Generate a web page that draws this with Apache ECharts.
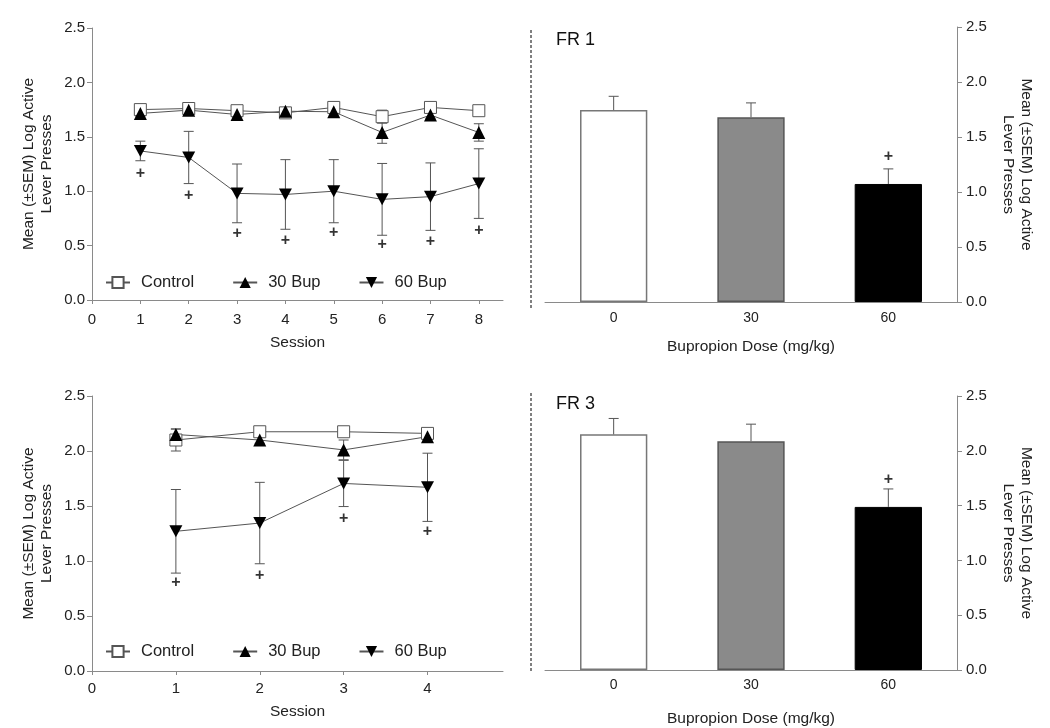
<!DOCTYPE html>
<html><head><meta charset="utf-8">
<script src="https://cdn.jsdelivr.net/npm/echarts@6/dist/echarts.min.js"></script>
<style>html,body{margin:0;padding:0;background:#fff}#c{width:1050px;height:728px}</style>
</head><body><div id="c"></div>
<script>
// ---- data ----
const sessionsTop = [1,2,3,4,5,6,7,8];
const ctrlTop     = [1.75,1.76,1.74,1.72,1.77,1.685,1.77,1.74];
const ctrlTopSem  = [0.03,0.03,0.03,0.03,0.03,0.06,0.03,0.03];
const bup30Top    = [1.715,1.745,1.705,1.735,1.73,1.54,1.70,1.54];
const bup30TopSem = [0.03,0.03,0.03,0.03,0.03,0.10,0.03,0.08];
const bup60Top    = [1.37,1.31,0.98,0.97,1.00,0.925,0.95,1.07];
const bup60TopSem = [0.09,0.24,0.27,0.32,0.29,0.33,0.31,0.32];
const plusTop     = [1.16,0.96,0.61,0.55,0.62,0.51,0.54,0.64];

const sessionsBot = [1,2,3,4];
const ctrlBot     = [2.10,2.175,2.175,2.16];
const ctrlBotSem  = [0.10,0.03,0.03,0.03];
const bup30Bot    = [2.15,2.10,2.01,2.13];
const bup30BotSem = [0.05,0.03,0.09,0.03];
const bup60Bot    = [1.27,1.345,1.705,1.67];
const bup60BotSem = [0.38,0.37,0.21,0.31];
const plusBot     = [0.80,0.87,1.39,1.27];

const doses       = ['0','30','60'];
const fr1Mean     = [1.745,1.68,1.073];
const fr1Sem      = [0.125,0.13,0.137];
const fr1Plus     = [null,null,1.32];
const fr3Mean     = [2.15,2.088,1.488];
const fr3Sem      = [0.145,0.155,0.164];
const fr3Plus     = [null,null,1.74];

const seriesNames = ['Control','30 Bup','60 Bup'];
const yName = 'Mean (±SEM) Log Active\nLever Presses';

// ---- styling helpers ----
const FONT = "'Liberation Sans', Arial, sans-serif";
const AX = '#8a8a8a';
const downTri = 'path://M0,0 L10,0 L5,9 Z';
const pairs = (xs, ys) => xs.map((x,i)=>[x, ys[i]]);
const triples = (xs, ys, es) => xs.map((x,i)=>[x, ys[i], es[i]]);

function errRender(both){
  return function(params, api){
    const x = api.value(0), y = api.value(1), e = api.value(2);
    const top = api.coord([x, y+e]);
    const bot = api.coord(both ? [x, y-e] : [x, y]);
    const hw = 5;
    const st = {stroke:'#555', lineWidth:1};
    const ch = [
      {type:'line', shape:{x1:top[0],y1:top[1],x2:bot[0],y2:bot[1]}, style:st},
      {type:'line', shape:{x1:top[0]-hw,y1:top[1],x2:top[0]+hw,y2:top[1]}, style:st}
    ];
    if (both) ch.push({type:'line', shape:{x1:bot[0]-hw,y1:bot[1],x2:bot[0]+hw,y2:bot[1]}, style:st});
    return {type:'group', children:ch};
  };
}

function valueYAxis(gi, right){
  return {
    type:'value', gridIndex:gi, min:0, max:2.5, interval:0.5,
    position: right ? 'right' : 'left',
    name: yName, nameLocation:'middle', nameGap: right ? 42 : 36,
    nameRotate: right ? -90 : 90,
    nameTextStyle:{fontFamily:FONT, fontSize:15.5, color:'#222', lineHeight:18},
    axisLine:{show:true, lineStyle:{color:AX}},
    axisTick:{show:true, length:5, lineStyle:{color:AX}},
    axisLabel:{fontFamily:FONT, fontSize:15, color:'#222', margin: right ? 9 : 7, formatter:v=>v.toFixed(1)},
    splitLine:{show:false}
  };
}
function sessionXAxis(gi, max, ticks, margin, gap){
  return {
    type:'value', gridIndex:gi, min:0, max:max, interval:1,
    name:'Session', nameLocation:'middle', nameGap:gap,
    nameTextStyle:{fontFamily:FONT, fontSize:15.5, color:'#222'},
    axisLine:{show:true, onZero:false, lineStyle:{color:AX}},
    axisTick:{show:true, length:4, customValues:ticks, lineStyle:{color:AX}},
    axisLabel:{fontFamily:FONT, fontSize:15, color:'#222', margin:margin, customValues:ticks},
    splitLine:{show:false}
  };
}
function doseXAxis(gi, margin, gap){
  return {
    type:'category', gridIndex:gi, data:doses,
    name:'Bupropion Dose (mg/kg)', nameLocation:'middle', nameGap:gap,
    nameTextStyle:{fontFamily:FONT, fontSize:15.5, color:'#222'},
    axisLine:{show:true, lineStyle:{color:AX}},
    axisTick:{show:false},
    axisLabel:{fontFamily:FONT, fontSize:14, color:'#222', margin:margin},
    splitLine:{show:false}
  };
}

function lineSeries(name, xi, xs, ys, kind){
  const s = {
    name, type:'line', xAxisIndex:xi, yAxisIndex:xi, data:pairs(xs,ys), z:5,
    lineStyle:{color:'#555', width:1}, symbolSize:12, animation:false
  };
  if (kind==='ctrl'){ s.symbol='rect'; s.itemStyle={color:'#fff', borderColor:'#555', borderWidth:1}; }
  else if (kind==='up'){ s.symbol='triangle'; s.symbolSize=13; s.itemStyle={color:'#000'}; }
  else { s.symbol=downTri; s.symbolSize=[13,12]; s.itemStyle={color:'#000'}; }
  return s;
}
function errSeries(xi, xs, ys, es, both){
  return {type:'custom', xAxisIndex:xi, yAxisIndex:xi, data:triples(xs,ys,es), z:3,
          renderItem:errRender(both), silent:true, animation:false};
}
function plusSeries(xi, xs, ys){
  return {type:'scatter', xAxisIndex:xi, yAxisIndex:xi, data:pairs(xs,ys).filter(p=>p[1]!=null),
    symbolSize:1, itemStyle:{color:'rgba(0,0,0,0)'}, silent:true, animation:false,
    label:{show:true, position:'inside', formatter:'+', fontFamily:FONT, fontSize:16, fontWeight:'bold', color:'#000'}};
}
const barColors = [
  {color:'#fff', borderColor:'#777', borderWidth:1.5},
  {color:'#8a8a8a', borderColor:'#555', borderWidth:1.5},
  {color:'#000', borderColor:'#000', borderWidth:1}
];
function barSeries(xi, vals){
  return {type:'bar', xAxisIndex:xi, yAxisIndex:xi, barWidth:'49%', z:2, animation:false,
    data: vals.map((v,i)=>({value:v, itemStyle:barColors[i]}))};
}
function legendAt(top){
  return {top:top, left:100, itemGap:38, itemWidth:24, itemHeight:14,
    data:seriesNames, selectedMode:false,
    textStyle:{fontFamily:FONT, fontSize:16.5, color:'#222', padding:[0,0,0,6]}};
}

const chart = echarts.init(document.getElementById('c'), null, {renderer:'canvas'});
chart.setOption({
  backgroundColor:'#fff',
  animation:false,
  grid:[
    {left:92, top:28, width:411, height:272},
    {left:545, top:27, width:412, height:275},
    {left:92, top:396, width:411, height:275},
    {left:545, top:396, width:412, height:275}
  ],
  title:[
    {text:'FR 1', left:556, top:31, padding:0, textStyle:{fontFamily:FONT, fontSize:18, fontWeight:'normal', color:'#111'}},
    {text:'FR 3', left:556, top:395, padding:0, textStyle:{fontFamily:FONT, fontSize:18, fontWeight:'normal', color:'#111'}}
  ],
  legend:[legendAt(269), legendAt(638)],
  xAxis:[
    sessionXAxis(0, 8.5, [0,1,2,3,4,5,6,7,8], 12, 35),
    doseXAxis(1, 9, 37),
    sessionXAxis(2, 4.9, [0,1,2,3,4], 10, 33),
    doseXAxis(3, 8, 41)
  ],
  yAxis:[valueYAxis(0,false), valueYAxis(1,true), valueYAxis(2,false), valueYAxis(3,true)],
  graphic:[
    {type:'line', shape:{x1:531,y1:30,x2:531,y2:310}, style:{stroke:'#000', lineWidth:1, lineDash:[3,2]}},
    {type:'line', shape:{x1:531,y1:393,x2:531,y2:673}, style:{stroke:'#000', lineWidth:1, lineDash:[3,2]}}
  ],
  series:[
    errSeries(0, sessionsTop, ctrlTop, ctrlTopSem, true),
    errSeries(0, sessionsTop, bup30Top, bup30TopSem, true),
    errSeries(0, sessionsTop, bup60Top, bup60TopSem, true),
    lineSeries('Control', 0, sessionsTop, ctrlTop, 'ctrl'),
    lineSeries('30 Bup', 0, sessionsTop, bup30Top, 'up'),
    lineSeries('60 Bup', 0, sessionsTop, bup60Top, 'down'),
    plusSeries(0, sessionsTop, plusTop),

    barSeries(1, fr1Mean),
    errSeries(1, [0,1,2], fr1Mean, fr1Sem, false),
    plusSeries(1, [0,1,2], fr1Plus),

    errSeries(2, sessionsBot, ctrlBot, ctrlBotSem, true),
    errSeries(2, sessionsBot, bup30Bot, bup30BotSem, true),
    errSeries(2, sessionsBot, bup60Bot, bup60BotSem, true),
    lineSeries('Control', 2, sessionsBot, ctrlBot, 'ctrl'),
    lineSeries('30 Bup', 2, sessionsBot, bup30Bot, 'up'),
    lineSeries('60 Bup', 2, sessionsBot, bup60Bot, 'down'),
    plusSeries(2, sessionsBot, plusBot),

    barSeries(3, fr3Mean),
    errSeries(3, [0,1,2], fr3Mean, fr3Sem, false),
    plusSeries(3, [0,1,2], fr3Plus)
  ]
});
</script></body></html>
